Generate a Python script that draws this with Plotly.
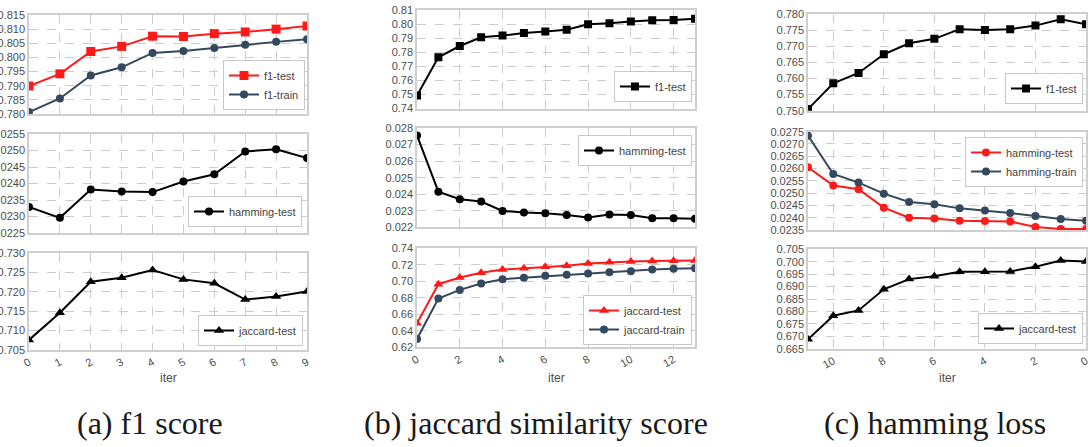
import plotly.graph_objects as go

# ---------------- data ----------------
iters_a = list(range(10))
iters_b = list(range(14))
iters_c = list(range(11, -1, -1))

a_f1_test = [0.7899, 0.7942, 0.8021, 0.8039, 0.8075, 0.8074, 0.8084, 0.8090, 0.8100, 0.8111]
a_f1_train = [0.7807, 0.7855, 0.7936, 0.7965, 0.8016, 0.8023, 0.8033, 0.8045, 0.8055, 0.8064]
a_hamming_test = [0.02329, 0.02296, 0.02382, 0.02376, 0.02374, 0.02406, 0.02428, 0.02497, 0.02504, 0.02477]
a_jaccard_test = [0.7076, 0.7146, 0.7226, 0.7236, 0.7256, 0.7232, 0.7222, 0.7180, 0.7188, 0.7201]

b_f1_test = [0.7492, 0.7764, 0.7844, 0.7906, 0.7918, 0.7937, 0.7948, 0.7960, 0.7998, 0.8005,
             0.8019, 0.8027, 0.8029, 0.8038]
b_hamming_test = [0.02755, 0.02415, 0.02370, 0.02356, 0.02299, 0.02289, 0.02285, 0.02275,
                  0.02259, 0.02277, 0.02275, 0.02255, 0.02255, 0.02251]
b_jaccard_test = [0.6492, 0.6965, 0.7046, 0.7103, 0.7143, 0.7159, 0.7176, 0.7188, 0.7216,
                  0.7232, 0.7240, 0.7245, 0.7249, 0.7253]
b_jaccard_train = [0.6301, 0.6791, 0.6896, 0.6973, 0.7026, 0.7042, 0.7066, 0.7079, 0.7095,
                   0.7111, 0.7123, 0.7143, 0.7151, 0.7159]

c_f1_test = [0.7505, 0.7585, 0.7617, 0.7675, 0.7709, 0.7723, 0.7753, 0.7750, 0.7753, 0.7764,
             0.7784, 0.7768]
c_hamming_test = [0.02605, 0.02531, 0.02516, 0.02441, 0.02400, 0.02397, 0.02388, 0.02387,
                  0.02385, 0.02362, 0.02354, 0.02354]
c_hamming_train = [0.02734, 0.02578, 0.02543, 0.02498, 0.02464, 0.02455, 0.02438, 0.02429,
                   0.02419, 0.02407, 0.02395, 0.02388]
c_jaccard_test = [0.6688, 0.6783, 0.6804, 0.6889, 0.6930, 0.6942, 0.6960, 0.6960, 0.6961,
                  0.6980, 0.7005, 0.7001]

captions = ["(a) f1 score", "(b) jaccard similarity score", "(c) hamming loss"]
xlabel = "iter"

# ---------------- layout helpers ----------------
W, H = 1092, 447
RED = "#ff1a1a"
DARK = "#34495e"
BLACK = "#000000"
GRID = "#cccccc"
FRAME = "#cfcfcf"
TICKC = "#4d4d4d"


def fx(p):
    return p / W


def fy(p):
    return 1 - p / H


x_dom = [(29, 307), (417, 695), (808, 1086)]
y_dom = [
    [(15, 114), (134, 233), (253, 350)],
    [(10, 108.5), (128, 227.3), (248.3, 347.3)],
    [(14, 110.7), (131.7, 230), (249.3, 348.7)],
]

x_ranges = [[0, 9], [0, 13], [11, 0]]
x_dticks = [1, 2, 2]

y_specs = [
    [([0.780, 0.815], 0.005, ".3f"), ([0.0225, 0.0255], 0.0005, ".4f"), ([0.705, 0.730], 0.005, ".3f")],
    [([0.74, 0.81], 0.01, ".2f"), ([0.022, 0.028], 0.001, ".3f"), ([0.62, 0.74], 0.02, ".2f")],
    [([0.750, 0.780], 0.005, ".3f"), ([0.0235, 0.0275], 0.0005, ".4f"), ([0.665, 0.705], 0.005, ".3f")],
]

# series per subplot: (x, y, name, color, symbol, size)
series = [
    [
        [(iters_a, a_f1_test, "f1-test", RED, "square", 9), (iters_a, a_f1_train, "f1-train", DARK, "circle", 8)],
        [(iters_a, a_hamming_test, "hamming-test", BLACK, "circle", 8)],
        [(iters_a, a_jaccard_test, "jaccard-test", BLACK, "triangle-up", 9)],
    ],
    [
        [(iters_b, b_f1_test, "f1-test", BLACK, "square", 8)],
        [(iters_b, b_hamming_test, "hamming-test", BLACK, "circle", 8)],
        [(iters_b, b_jaccard_test, "jaccard-test", RED, "triangle-up", 9),
         (iters_b, b_jaccard_train, "jaccard-train", DARK, "circle", 8)],
    ],
    [
        [(iters_c, c_f1_test, "f1-test", BLACK, "square", 8)],
        [(iters_c, c_hamming_test, "hamming-test", RED, "circle", 8),
         (iters_c, c_hamming_train, "hamming-train", DARK, "circle", 8)],
        [(iters_c, c_jaccard_test, "jaccard-test", BLACK, "triangle-up", 9)],
    ],
]

# legend anchor positions in pixels: (right x, y, yanchor)
legend_pos = [
    [(305, 110, "bottom"), (302, 227, "bottom"), (303, 346, "bottom")],
    [(692, 102, "bottom"), (692, 135, "top"), (692, 345, "bottom")],
    [(1083, 104, "bottom"), (1083, 137, "top"), (1083, 344, "bottom")],
]

fig = go.Figure()
layout = dict(
    width=W, height=H, template="none",
    margin=dict(l=0, r=0, t=0, b=0),
    paper_bgcolor="white", plot_bgcolor="white",
    showlegend=True,
    font=dict(family="Liberation Sans, Arial, sans-serif", color=TICKC),
)
annotations = []

for p in range(3):
    for r in range(3):
        k = p * 3 + r + 1
        sfx = "" if k == 1 else str(k)
        leg = "legend" if k == 1 else f"legend{k}"
        for (xs, ys, name, col, sym, sz) in series[p][r]:
            fig.add_trace(go.Scatter(
                x=xs, y=ys, name=name, mode="lines+markers",
                line=dict(color=col, width=2),
                marker=dict(color=col, symbol=sym, size=sz, line=dict(width=0)),
                xaxis="x" + sfx, yaxis="y" + sfx, legend=leg,
            ))
        bottom = (r == 2)
        layout["xaxis" + sfx] = dict(
            domain=[fx(x_dom[p][0]), fx(x_dom[p][1])],
            anchor="y" + sfx,
            range=x_ranges[p], tick0=0, dtick=x_dticks[p], tickmode="linear",
            showgrid=True, gridcolor=GRID, griddash="dash", gridwidth=1,
            zeroline=False, showline=True, mirror=True, linecolor=FRAME, linewidth=1.5,
            ticks="", showticklabels=bottom, tickangle=-30,
            tickfont=dict(size=11, color=TICKC), automargin=False,
        )
        rng, dt, fmt = y_specs[p][r]
        layout["yaxis" + sfx] = dict(
            domain=[fy(y_dom[p][r][1]), fy(y_dom[p][r][0])],
            anchor="x" + sfx,
            range=rng, tick0=rng[0], dtick=dt, tickmode="linear", tickformat=fmt,
            showgrid=True, gridcolor=GRID, griddash="dash", gridwidth=1,
            zeroline=False, showline=True, mirror=True, linecolor=FRAME, linewidth=1.5,
            ticks="", tickfont=dict(size=11, color=TICKC), automargin=False,
        )
        lx, ly, ya = legend_pos[p][r]
        layout[leg] = dict(
            x=fx(lx), y=fy(ly), xanchor="right", yanchor=ya,
            xref="paper", yref="paper",
            bgcolor="white", bordercolor="#c8c8c8", borderwidth=1,
            font=dict(size=11, color="#444444"), itemwidth=30,
            tracegroupgap=0,
        )
    # x axis label
    annotations.append(dict(
        x=fx((x_dom[p][0] + x_dom[p][1]) / 2), y=fy(378), xref="paper", yref="paper",
        text=xlabel, showarrow=False, xanchor="center", yanchor="middle",
        font=dict(size=12, color=TICKC),
    ))

cap_x = [150, 535.5, 935]
for p in range(3):
    annotations.append(dict(
        x=fx(cap_x[p]), y=fy(423), xref="paper", yref="paper",
        text=captions[p], showarrow=False, xanchor="center", yanchor="middle",
        font=dict(family="Liberation Serif, Times New Roman, serif", size=32, color="#1a1a1a"),
    ))

layout["annotations"] = annotations
fig.update_layout(**layout)
fig.write_html("out.html")
